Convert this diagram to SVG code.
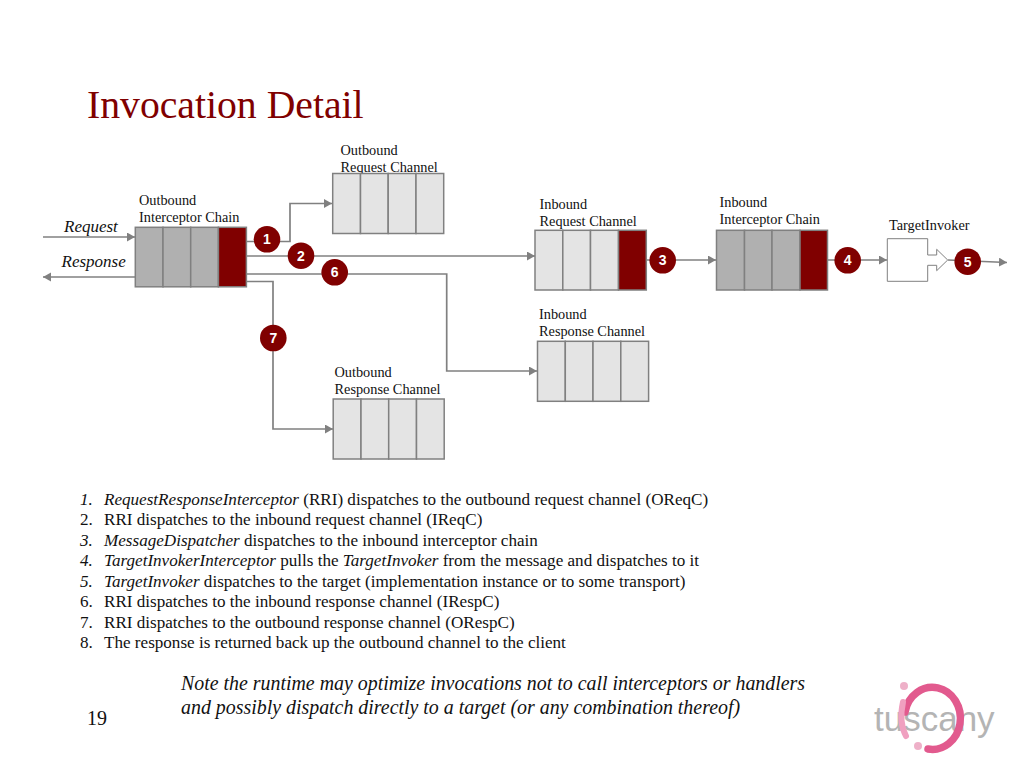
<svg xmlns="http://www.w3.org/2000/svg" width="1024" height="768" viewBox="0 0 1024 768">
<style>
text{font-family:"Liberation Serif","Times New Roman",serif;fill:#111}
.lbl{font-size:14.300px}
.lst{font-size:17.100px}
.i{font-style:italic}
.title{font-size:39.700px;fill:#800000}
.note{font-size:19.900px;font-style:italic}
.rl{font-size:17px;font-style:italic}
.cell{stroke:#808080;stroke-width:1.500}
.g{fill:#b0b0b0}
.l{fill:#e4e4e4}
.r{fill:#800000}
.c{fill:none;stroke:#808080;stroke-width:1.700}
.bd{fill:#800000}
.n{font-family:"Liberation Sans",Arial,sans-serif;font-size:14px;font-weight:bold;fill:#fff;text-anchor:middle}
</style>
<defs>
<marker id="a" markerUnits="userSpaceOnUse" markerWidth="9" markerHeight="10" refX="8" refY="4.500" orient="auto"><path d="M0 0L8 4.500L0 9Z" fill="#808080"/></marker>
</defs>
<rect width="1024" height="768" fill="#fff"/>
<text class="title" x="87" y="118">Invocation Detail</text>

<g id="connectors">
<path class="c" marker-end="url(#a)" d="M43 237H135"/>
<path class="c" marker-end="url(#a)" d="M135 277H43"/>
<path class="c" marker-end="url(#a)" d="M247 241.500H290V203.500H332"/>
<path class="c" marker-end="url(#a)" d="M247 256H535"/>
<path class="c" marker-end="url(#a)" d="M247 274H446.700V371H537"/>
<path class="c" marker-end="url(#a)" d="M247 281.500H273V429H333"/>
<path class="c" marker-end="url(#a)" d="M646 260H716"/>
<path class="c" marker-end="url(#a)" d="M827 260H887"/>
<path class="c" marker-end="url(#a)" d="M948 260L1007 262.500"/>
</g>

<g id="outbound-interceptor-chain">
<text class="lbl" x="139" y="205">Outbound</text><text class="lbl" x="139" y="222">Interceptor Chain</text>
<rect class="cell g" x="135.300" y="227.300" width="27.700" height="59.500"/><rect class="cell g" x="163" y="227.300" width="27.700" height="59.500"/><rect class="cell g" x="190.700" y="227.300" width="27.700" height="59.500"/><rect class="cell r" x="218.400" y="227.300" width="28" height="59.500"/>
</g>
<g id="outbound-request-channel">
<text class="lbl" x="340.500" y="155">Outbound</text><text class="lbl" x="340.500" y="172">Request Channel</text>
<rect class="cell l" x="332.700" y="173.500" width="27.800" height="60"/><rect class="cell l" x="360.500" y="173.500" width="27.700" height="60"/><rect class="cell l" x="388.200" y="173.500" width="27.800" height="60"/><rect class="cell l" x="416" y="173.500" width="27.700" height="60"/>
</g>
<g id="outbound-response-channel">
<text class="lbl" x="334.500" y="377">Outbound</text><text class="lbl" x="334.500" y="394">Response Channel</text>
<rect class="cell l" x="333.200" y="399" width="27.800" height="60"/><rect class="cell l" x="361" y="399" width="27.700" height="60"/><rect class="cell l" x="388.700" y="399" width="27.800" height="60"/><rect class="cell l" x="416.500" y="399" width="27.700" height="60"/>
</g>
<g id="inbound-request-channel">
<text class="lbl" x="539.500" y="209">Inbound</text><text class="lbl" x="539.500" y="226">Request Channel</text>
<rect class="cell l" x="535" y="230.300" width="27.800" height="59.700"/><rect class="cell l" x="562.800" y="230.300" width="27.700" height="59.700"/><rect class="cell l" x="590.500" y="230.300" width="28" height="59.700"/><rect class="cell r" x="618.500" y="230.300" width="27.800" height="59.700"/>
</g>
<g id="inbound-interceptor-chain">
<text class="lbl" x="719.500" y="207">Inbound</text><text class="lbl" x="719.500" y="224">Interceptor Chain</text>
<rect class="cell g" x="716.500" y="230.300" width="28" height="59.700"/><rect class="cell g" x="744.500" y="230.300" width="27.500" height="59.700"/><rect class="cell g" x="772" y="230.300" width="28" height="59.700"/><rect class="cell r" x="800" y="230.300" width="27.500" height="59.700"/>
</g>
<g id="inbound-response-channel">
<text class="lbl" x="539" y="319">Inbound</text><text class="lbl" x="539" y="336">Response Channel</text>
<rect class="cell l" x="537.500" y="341.300" width="27.800" height="60"/><rect class="cell l" x="565.300" y="341.300" width="27.700" height="60"/><rect class="cell l" x="593" y="341.300" width="27.800" height="60"/><rect class="cell l" x="620.800" y="341.300" width="27.800" height="60"/>
</g>
<g id="target-invoker">
<text class="lbl" x="889" y="230">TargetInvoker</text>
<path fill="#fff" stroke="#808080" stroke-width="1" d="M887.300 238.700H927.700V255H936.700V249.300L947.700 260L936.700 270.700V265.300H927.700V281.300H887.300Z"/>
</g>
<text class="rl" x="64" y="232">Request</text>
<text class="rl" x="61.500" y="267">Response</text>

<g id="badge-1"><circle class="bd" cx="267" cy="239.300" r="13.300"/><text class="n" x="267" y="244.300">1</text></g>
<g id="badge-2"><circle class="bd" cx="301" cy="255.700" r="13.300"/><text class="n" x="301" y="260.700">2</text></g>
<g id="badge-6"><circle class="bd" cx="334.700" cy="272.300" r="13.300"/><text class="n" x="334.700" y="277.300">6</text></g>
<g id="badge-7"><circle class="bd" cx="273.300" cy="338" r="13.300"/><text class="n" x="273.300" y="343">7</text></g>
<g id="badge-3"><circle class="bd" cx="662.700" cy="260.300" r="13.300"/><text class="n" x="662.700" y="265.300">3</text></g>
<g id="badge-4"><circle class="bd" cx="847.700" cy="260.300" r="13.300"/><text class="n" x="847.700" y="265.300">4</text></g>
<g id="badge-5"><circle class="bd" cx="967.700" cy="261.700" r="13.300"/><text class="n" x="967.700" y="266.700">5</text></g>

<g id="steps">
<text class="lst i" x="80" y="504.500">1.</text><text class="lst" x="104" y="504.500"><tspan class="i">RequestResponseInterceptor</tspan> (RRI) dispatches to the outbound request channel (OReqC)</text>
<text class="lst" x="80" y="525">2.</text><text class="lst" x="104" y="525">RRI dispatches to the inbound request channel (IReqC)</text>
<text class="lst i" x="80" y="545.500">3.</text><text class="lst" x="104" y="545.500"><tspan class="i">MessageDispatcher</tspan> dispatches to the inbound interceptor chain</text>
<text class="lst i" x="80" y="566">4.</text><text class="lst" x="104" y="566"><tspan class="i">TargetInvokerInterceptor</tspan> pulls the <tspan class="i">TargetInvoker</tspan> from the message and dispatches to it</text>
<text class="lst i" x="80" y="586.500">5.</text><text class="lst" x="104" y="586.500"><tspan class="i">TargetInvoker</tspan> dispatches to the target (implementation instance or to some transport)</text>
<text class="lst" x="80" y="607">6.</text><text class="lst" x="104" y="607">RRI dispatches to the inbound response channel (IRespC)</text>
<text class="lst" x="80" y="627.500">7.</text><text class="lst" x="104" y="627.500">RRI dispatches to the outbound response channel (ORespC)</text>
<text class="lst" x="80" y="648">8.</text><text class="lst" x="104" y="648">The response is returned back up the outbound channel to the client</text>
</g>
<text class="note" x="181" y="690">Note the runtime may optimize invocations not to call interceptors or handlers</text>
<text class="note" x="181" y="714">and possibly dispatch directly to a target (or any combination thereof)</text>
<text x="87" y="725" font-size="20">19</text>

<g id="logo">
<text x="874" y="731" font-size="35" style="font-family:'Liberation Sans',Arial,sans-serif;fill:#b4b4b4">tuscany</text>
<path d="M905 712A28 31 0 1 1 928 749" fill="none" stroke="#e25a8e" stroke-width="7.500" stroke-linecap="round"/>
<path d="M903 702C900 716 901 727 906 736" fill="none" stroke="#f0a0c0" stroke-width="6" stroke-linecap="round"/>
<circle cx="904" cy="686" r="4" fill="#eeb0c8"/>
<circle cx="918" cy="746" r="4" fill="#eeb0c8"/>
</g>
</svg>
